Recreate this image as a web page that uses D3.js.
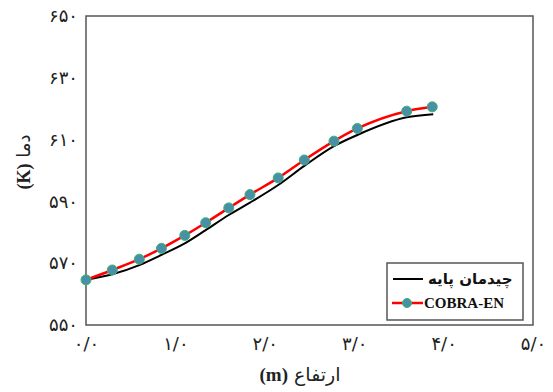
<!DOCTYPE html>
<html><head><meta charset="utf-8">
<script src="https://cdn.jsdelivr.net/npm/d3@7"></script>
<style>
html,body{margin:0;padding:0;background:#fff;}
svg{display:block;font-family:"Liberation Serif","DejaVu Serif",serif;}
</style></head>
<body>
<svg id="c" width="553" height="392"></svg>
<script>
const cobraX = [0, 0.294, 0.596, 0.844, 1.105, 1.339, 1.597, 1.834, 2.15, 2.442, 2.774, 3.035, 3.587, 3.873];
const cobraY = [564.6, 567.8, 571.3, 574.8, 579.0, 583.1, 587.9, 592.2, 597.6, 603.4, 609.5, 613.6, 619.2, 620.6];
const baseX = [0, 0.294, 0.596, 0.844, 1.105, 1.339, 1.597, 1.834, 2.15, 2.442, 2.774, 3.035, 3.587, 3.884];
const baseY = [564.6, 566.4, 569.4, 572.7, 576.4, 580.7, 585.6, 589.6, 595.3, 601.5, 607.9, 611.5, 617.2, 618.2];
const xTicks = [0, 1, 2, 3, 4, 5];
const xTickLabels = ["۰/۰", "۱/۰", "۲/۰", "۳/۰", "۴/۰", "۵/۰"];
const yTicks = [550, 570, 590, 610, 630, 650];
const yTickLabels = ["۵۵۰", "۵۷۰", "۵۹۰", "۶۱۰", "۶۳۰", "۶۵۰"];
const legendLabels = ["چیدمان پایه", "COBRA-EN"];

const svg = d3.select("#c");
const L = 86, R = 533, T = 16, B = 325;
const x = d3.scaleLinear().domain([0, 5]).range([L, R]);
const y = d3.scaleLinear().domain([550, 650]).range([B, T]);

// frame
svg.append("rect").attr("x", L).attr("y", T).attr("width", R - L).attr("height", B - T)
  .attr("fill", "none").attr("stroke", "#555").attr("stroke-width", 1.5);

// axes
const xAxis = d3.axisBottom(x).tickValues(xTicks).tickSize(0).tickPadding(12)
  .tickFormat((d, i) => xTickLabels[i]);
const gx = svg.append("g").attr("transform", `translate(0,${B})`).call(xAxis);
gx.select(".domain").remove();
gx.selectAll("text").attr("font-size", 18).attr("fill", "#222")
  .attr("font-family", "'DejaVu Sans', serif");

const yAxis = d3.axisLeft(y).tickValues(yTicks).tickSize(0).tickPadding(8)
  .tickFormat((d, i) => yTickLabels[i]);
const gy = svg.append("g").attr("transform", `translate(${L},0)`).call(yAxis);
gy.select(".domain").remove();
gy.selectAll("text").attr("font-size", 18).attr("fill", "#222")
  .attr("font-family", "'DejaVu Sans', serif");

// titles
const xt = svg.append("text").attr("x", 300).attr("y", 381).attr("text-anchor", "middle")
  .attr("direction", "rtl").attr("font-size", 19).attr("fill", "#222");
xt.append("tspan").attr("font-family", "'DejaVu Sans', serif").text("ارتفاع ");
xt.append("tspan").attr("font-weight", "bold").text("(m)");

const yt = svg.append("text").attr("transform", "translate(30,162) rotate(-90)")
  .attr("text-anchor", "middle").attr("direction", "rtl").attr("font-size", 18).attr("fill", "#222");
yt.append("tspan").attr("font-family", "'DejaVu Sans', serif").text("دما ");
yt.append("tspan").attr("font-weight", "bold").text("(K)");

// lines
const baseData = baseX.map((v, i) => [v, baseY[i]]);
const cobraData = cobraX.map((v, i) => [v, cobraY[i]]);
const line = d3.line().x(d => x(d[0])).y(d => y(d[1])).curve(d3.curveMonotoneX);

svg.append("path").datum(baseData).attr("d", line).attr("fill", "none")
  .attr("stroke", "#000").attr("stroke-width", 2);
svg.append("path").datum(cobraData).attr("d", line).attr("fill", "none")
  .attr("stroke", "#ff0000").attr("stroke-width", 2.5);
svg.selectAll("circle.pt").data(cobraData).enter().append("circle").attr("class", "pt")
  .attr("cx", d => x(d[0])).attr("cy", d => y(d[1])).attr("r", 5)
  .attr("fill", "#4a8fa8").attr("stroke", "#3cb371").attr("stroke-width", 1);

// legend
const lg = svg.append("g");
lg.append("rect").attr("x", 387).attr("y", 263).attr("width", 136).attr("height", 57)
  .attr("fill", "#fff").attr("stroke", "#555").attr("stroke-width", 1.5);
lg.append("line").attr("x1", 393).attr("x2", 423).attr("y1", 279).attr("y2", 279)
  .attr("stroke", "#000").attr("stroke-width", 2);
lg.append("text").attr("x", 428).attr("y", 284).attr("font-size", 15).attr("font-weight", "bold")
  .attr("font-family", "'DejaVu Sans', serif").attr("fill", "#111").text(legendLabels[0]);
lg.append("line").attr("x1", 392).attr("x2", 423).attr("y1", 303).attr("y2", 303)
  .attr("stroke", "#ff0000").attr("stroke-width", 2.5);
lg.append("circle").attr("cx", 407).attr("cy", 303).attr("r", 4.5)
  .attr("fill", "#4a8fa8").attr("stroke", "#3cb371").attr("stroke-width", 1);
lg.append("text").attr("x", 424).attr("y", 308).attr("font-size", 15).attr("font-weight", "bold")
  .attr("fill", "#111").text(legendLabels[1]);
</script>
</body></html>
